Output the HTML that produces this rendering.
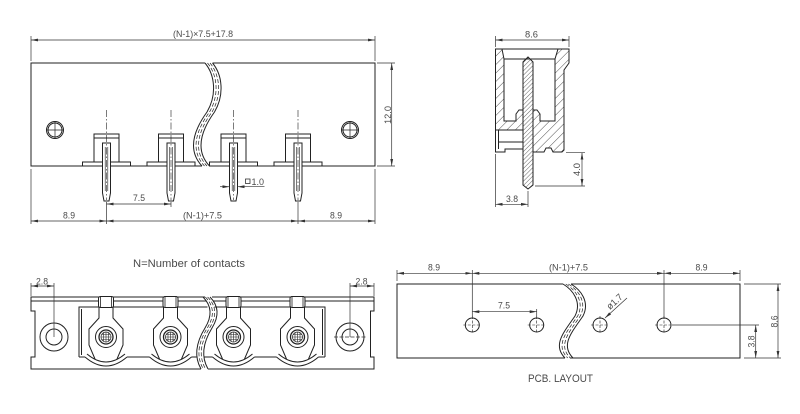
<!DOCTYPE html>
<html><head><meta charset="utf-8"><style>
html,body{margin:0;padding:0;background:#fff;}
svg{display:block;}
text{font-family:"Liberation Sans",sans-serif;font-size:9.5px;fill:#4a4a4a;}
</style></head><body>
<svg width="800" height="414" viewBox="0 0 800 414" xmlns="http://www.w3.org/2000/svg">
<defs>
<marker id="ar" markerWidth="7" markerHeight="4" refX="7" refY="2" orient="auto-start-reverse" markerUnits="userSpaceOnUse"><path d="M0,0.6L7,2L0,3.4Z" fill="#333"/></marker>
<pattern id="h" patternUnits="userSpaceOnUse" width="6" height="6" patternTransform="rotate(45)"><line x1="0" y1="0" x2="0" y2="6" stroke="#222" stroke-width="0.8"/></pattern>
<pattern id="hp" patternUnits="userSpaceOnUse" width="3" height="3" patternTransform="rotate(45)"><line x1="0" y1="0" x2="0" y2="3" stroke="#222" stroke-width="0.7"/></pattern>
<g id="tc" fill="none" stroke="#222" stroke-width="1">
 <rect x="-24" y="162" width="48" height="4" fill="#fff"/>
 <path d="M-12.5,162V134H12.5V162M-12.5,138H12.5"/>
 <path d="M-4,143H4V193L2.5,201H-2.5L-4,193Z" fill="#fff"/>
 <path d="M-1.3,147V191M1.3,147V191" stroke-width="0.6"/>
 <path d="M0,110V200" stroke-dasharray="7,2,1.5,2" stroke-width="0.6"/>
</g>
<g id="bc" fill="none" stroke="#222" stroke-width="1">
 <rect x="-7.5" y="296.5" width="15" height="11" rx="2" fill="#fff"/>
 <path d="M-5.5,297V307M5.5,297V307" stroke-width="0.8"/>
 <path d="M-7,307.5V318L-17,329V345L-11,359M7,307.5V318L17,329V345L11,359"/>
 <path d="M-21,357Q0,375 21,357M-19,354Q0,370 19,354"/>
 <circle cx="0" cy="337" r="10.5"/>
 <circle cx="0" cy="337" r="7" stroke-width="1.3"/>
 <circle cx="0" cy="337" r="5" stroke-width="0.7"/>
 <path d="M-5,337H5M0,332V342M-4.5,334.5H4.5M-4.5,339.5H4.5M-2.5,332.7V341.3M2.5,332.7V341.3" stroke-width="0.6"/>
</g>
<g id="hole" fill="none" stroke="#222">
 <circle cx="0" cy="0" r="7" stroke-width="1"/>
 <path d="M-9,0H9M0,-9V9" stroke-width="0.6" stroke-dasharray="3,1.5"/>
</g>
</defs>

<!-- ===== TOP FRONT VIEW ===== -->
<g fill="none" stroke="#222" stroke-width="1">
 <path d="M205,63H31V166H202M212.5,63H375V166H209.5"/>
 <path d="M205,63C215,75 217,95 207,112C194,130 187,150 202,166"/>
 <path d="M207.5,63C217.5,75 219.5,95 209.5,112C196.5,130 189.5,150 204.5,166" stroke-dasharray="4,2" stroke-width="0.7"/>
 <path d="M210,63C220,75 222,95 212,112C199,130 192,150 207,166" stroke-dasharray="4,2" stroke-width="0.7"/>
 <path d="M212.5,63C222.5,75 224.5,95 214.5,112C201.5,130 194.5,150 209.5,166"/>
 <circle cx="55" cy="130" r="8.5"/><circle cx="55" cy="130" r="7"/><path d="M46.5,130H63.5M55,121.5V138.5" stroke-width="0.7"/>
 <circle cx="350" cy="130" r="8.5"/><circle cx="350" cy="130" r="7"/><path d="M341.5,130H358.5M350,121.5V138.5" stroke-width="0.7"/>
</g>
<use href="#tc" x="106.5"/>
<use href="#tc" x="171"/>
<use href="#tc" x="233.5"/>
<use href="#tc" x="298"/>
<g fill="none" stroke="#333" stroke-width="0.7">
 <path d="M31,36V61M375,36V61"/>
 <path d="M31,40H375" marker-start="url(#ar)" marker-end="url(#ar)"/>
 <path d="M377,63H395M377,166H395"/>
 <path d="M391.7,63V166" marker-start="url(#ar)" marker-end="url(#ar)"/>
 <path d="M31,169V224M375,169V224M106.5,202V224M298,202V224M171,202V207"/>
 <path d="M106.5,204H171" marker-start="url(#ar)" marker-end="url(#ar)"/>
 <path d="M31,221H106.5" marker-start="url(#ar)" marker-end="url(#ar)"/>
 <path d="M106.5,221H298" marker-start="url(#ar)" marker-end="url(#ar)"/>
 <path d="M298,221H375" marker-start="url(#ar)" marker-end="url(#ar)"/>
 <path d="M220,186.7H229.5" marker-end="url(#ar)"/>
 <path d="M264.5,186.7H237.5" marker-end="url(#ar)"/>
 <rect x="245.5" y="179" width="4.5" height="4.5" stroke-width="0.8"/>
</g>
<text x="173" y="37" textLength="60" lengthAdjust="spacingAndGlyphs">(N-1)×7.5+17.8</text>
<text transform="translate(391,124) rotate(-90)" textLength="18" lengthAdjust="spacingAndGlyphs">12.0</text>
<text x="133" y="201" textLength="12" lengthAdjust="spacingAndGlyphs">7.5</text>
<text x="63" y="218.5" textLength="12" lengthAdjust="spacingAndGlyphs">8.9</text>
<text x="183" y="218.5" textLength="39" lengthAdjust="spacingAndGlyphs">(N-1)+7.5</text>
<text x="330" y="218.5" textLength="12" lengthAdjust="spacingAndGlyphs">8.9</text>
<text x="251.5" y="185" textLength="12.5" lengthAdjust="spacingAndGlyphs">1.0</text>

<!-- ===== SIDE VIEW ===== -->
<g fill="none" stroke="#222" stroke-width="1">
 <path d="M495.5,49H569M504,59H555"/>
 <path d="M495.5,49L502,49L504,59L504,121L516,121L516,114L519,110L523,110L523,130L495.5,130Z" fill="url(#h)"/>
 <path d="M495.5,130V152H505V149H523M498.5,130V149M498.5,142H523"/>
 <path d="M533,110L537,110L540,114L540,121L555,121L555,59L558,49L569,49L569,63L564,70L564,150L562,152L553,152L551,148L546,148L544,152L533,152Z" fill="url(#h)"/>
 <path d="M523,62L528,57L533,62V185L528,189L523,185Z" fill="url(#hp)"/>
</g>
<g fill="none" stroke="#333" stroke-width="0.7">
 <path d="M495.5,36V47M569,36V47"/>
 <path d="M495.5,40H569" marker-start="url(#ar)" marker-end="url(#ar)"/>
 <path d="M566,152.7H585M535,186H585"/>
 <path d="M582,152.7V186" marker-start="url(#ar)" marker-end="url(#ar)"/>
 <path d="M495.5,154V207M528,191V207"/>
 <path d="M495.5,204.3H528" marker-start="url(#ar)" marker-end="url(#ar)"/>
</g>
<text x="525" y="37.5" textLength="13" lengthAdjust="spacingAndGlyphs">8.6</text>
<text transform="translate(580,176) rotate(-90)" textLength="13" lengthAdjust="spacingAndGlyphs">4.0</text>
<text x="506" y="202" textLength="12" lengthAdjust="spacingAndGlyphs">3.8</text>

<!-- ===== BOTTOM-LEFT TOP VIEW ===== -->
<text x="133" y="267" style="font-size:11px" textLength="112" lengthAdjust="spacingAndGlyphs">N=Number of contacts</text>
<g fill="none" stroke="#222" stroke-width="1">
 <path d="M205,297H31V311H35V357H31V369H201"/>
 <path d="M212,297H374V311H370.5V357H374V369H208"/>
 <path d="M31,301H206M213,301H374"/>
 <path d="M207.5,307H79V357M81.5,309V355M214.5,307H325V357M322.5,309V355"/>
 <path d="M79,357H85M127,357H149.5M191.5,357H197.5M204.5,357H212.5M254.5,357H276.5M318.5,357H325"/>
 <path d="M203,297C211,305 213,315 205,328C197,341 193,355 201,369"/>
 <path d="M205.3,297C213.3,305 215.3,315 207.3,328C199.3,341 195.3,355 203.3,369" stroke-dasharray="4,2" stroke-width="0.7"/>
 <path d="M207.6,297C215.6,305 217.6,315 209.6,328C201.6,341 197.6,355 205.6,369" stroke-dasharray="4,2" stroke-width="0.7"/>
 <path d="M210,297C218,305 220,315 212,328C204,341 200,355 208,369"/>
 <circle cx="54" cy="337" r="14"/><circle cx="54" cy="337" r="8"/>
 <circle cx="350" cy="337" r="14"/><circle cx="350" cy="337" r="8"/>
</g>
<use href="#bc" x="106"/>
<use href="#bc" x="170.5"/>
<use href="#bc" x="233.5"/>
<use href="#bc" x="297.5"/>
<g fill="none" stroke="#333" stroke-width="0.7">
 <path d="M31,283V296M54,283V337M374,283V296M350,283V337"/>
 <path d="M334,337H366" stroke-dasharray="4,1.5"/>
 <path d="M31,286H54" marker-start="url(#ar)" marker-end="url(#ar)"/>
 <path d="M350,286H374" marker-start="url(#ar)" marker-end="url(#ar)"/>
</g>
<text x="36" y="284.5" textLength="12" lengthAdjust="spacingAndGlyphs">2.8</text>
<text x="355.5" y="284.5" textLength="12" lengthAdjust="spacingAndGlyphs">2.8</text>

<!-- ===== PCB LAYOUT ===== -->
<g fill="none" stroke="#222" stroke-width="1">
 <path d="M563,284H397V358H565M571,284H740V358H570"/>
 <path d="M563,284C573,290 582,302 575,316C564,332 552,345 565,358"/>
 <path d="M565.7,284C575.7,290 584.7,302 577.7,316C566.7,332 554.7,345 567.7,358" stroke-dasharray="4,2" stroke-width="0.7"/>
 <path d="M568.3,284C578.3,290 587.3,302 580.3,316C569.3,332 557.3,345 570.3,358" stroke-dasharray="4,2" stroke-width="0.7"/>
 <path d="M571,284C581,290 590,302 583,316C572,332 560,345 573,358"/>
</g>
<use href="#hole" x="472.3" y="325"/>
<use href="#hole" x="536.7" y="325"/>
<use href="#hole" x="600" y="325"/>
<use href="#hole" x="664" y="325"/>
<g fill="none" stroke="#333" stroke-width="0.7">
 <path d="M397,270V281M472.3,270V318M664,270V318M740,270V281M536.7,309V318"/>
 <path d="M397,273.3H472.3" marker-start="url(#ar)" marker-end="url(#ar)"/>
 <path d="M472.3,273.3H664" marker-start="url(#ar)" marker-end="url(#ar)"/>
 <path d="M664,273.3H740" marker-start="url(#ar)" marker-end="url(#ar)"/>
 <path d="M472.3,311.7H536.7" marker-start="url(#ar)" marker-end="url(#ar)"/>
 <path d="M627,298L605,318" marker-end="url(#ar)"/>
 <path d="M744,284H781M744,358H781M672,325H759"/>
 <path d="M778,284V358" marker-start="url(#ar)" marker-end="url(#ar)"/>
 <path d="M755.7,325V358" marker-start="url(#ar)" marker-end="url(#ar)"/>
</g>
<text x="428" y="270.5" textLength="12" lengthAdjust="spacingAndGlyphs">8.9</text>
<text x="549" y="270.5" textLength="39" lengthAdjust="spacingAndGlyphs">(N-1)+7.5</text>
<text x="695.5" y="270.5" textLength="12" lengthAdjust="spacingAndGlyphs">8.9</text>
<text x="498" y="308.5" textLength="12" lengthAdjust="spacingAndGlyphs">7.5</text>
<text transform="translate(610,310) rotate(-42)" textLength="18" lengthAdjust="spacingAndGlyphs">ø1.7</text>
<text transform="translate(777.5,327.5) rotate(-90)" textLength="12" lengthAdjust="spacingAndGlyphs">8.6</text>
<text transform="translate(754.5,347.5) rotate(-90)" textLength="12" lengthAdjust="spacingAndGlyphs">3.8</text>
<text x="528" y="382" style="font-size:11px" textLength="65" lengthAdjust="spacingAndGlyphs">PCB. LAYOUT</text>
</svg>
</body></html>
